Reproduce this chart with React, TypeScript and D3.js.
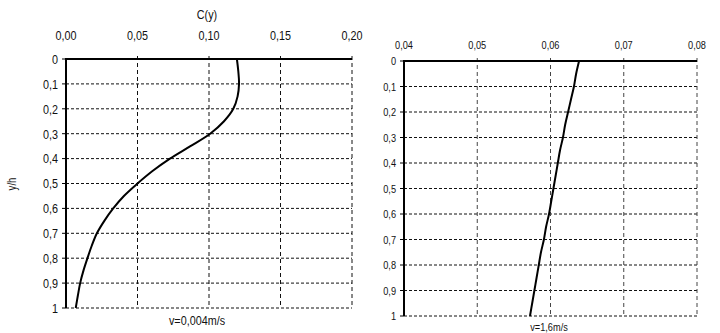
import React, { useEffect, useRef } from 'react';
import * as d3 from 'd3';

// depth y/h, shared by both profiles
const depths = [0, 0.05, 0.1, 0.15, 0.2, 0.25, 0.3, 0.35, 0.4, 0.45, 0.5, 0.55, 0.6, 0.65, 0.7, 0.75, 0.8, 0.85, 0.9, 0.95, 1];
// C(y) for v=0,004m/s
const concSlow = [0.1195, 0.1205, 0.121, 0.12, 0.117, 0.1105, 0.1008, 0.087, 0.0727, 0.0605, 0.05, 0.0405, 0.033, 0.0268, 0.0216, 0.018, 0.015, 0.0122, 0.0099, 0.0083, 0.0068];
// C(y) for v=1,6m/s
const concFast = [0.0639, 0.0635, 0.0632, 0.0628, 0.0624, 0.062, 0.0617, 0.0613, 0.061, 0.0607, 0.0604, 0.0601, 0.0598, 0.0594, 0.0591, 0.0587, 0.0584, 0.0581, 0.0578, 0.0575, 0.0572];

const yTicks = [0, 0.1, 0.2, 0.3, 0.4, 0.5, 0.6, 0.7, 0.8, 0.9, 1];
const xTicksSlow = [0, 0.05, 0.1, 0.15, 0.2];
const xTicksFast = [0.04, 0.05, 0.06, 0.07, 0.08];

const FONT = "'Liberation Sans', Arial, sans-serif";
const SQUEEZE = 0.8; // narrow look of the original font

const fmtY = (d: number) => (d === 0 ? '0' : d === 1 ? '1' : d.toFixed(1).replace('.', ','));
const fmtX = (d: number) => d.toFixed(2).replace('.', ',');

// text drawn narrow: translate to anchor point, then squeeze horizontally
function label(sel: any, anchor: string, size: number) {
  return sel.attr('text-anchor', anchor)
    .attr('font-family', FONT).attr('font-size', size).attr('fill', '#111');
}

function drawPanel(svg: any, o: any) {
  const x = d3.scaleLinear().domain(o.xDomain).range([o.left, o.right]);
  const y = d3.scaleLinear().domain([0, 1]).range([o.top, o.bottom]);
  const g = svg.append('g');

  // grid
  g.selectAll('line.h').data(yTicks.slice(1)).enter().append('line')
    .attr('x1', x(o.xDomain[0])).attr('x2', x(o.xDomain[1]))
    .attr('y1', (d: number) => y(d)).attr('y2', (d: number) => y(d))
    .attr('stroke', '#111').attr('stroke-width', 1).attr('stroke-dasharray', '3,2');
  g.selectAll('line.v').data(o.xTicks.slice(1)).enter().append('line')
    .attr('x1', (d: number) => x(d)).attr('x2', (d: number) => x(d))
    .attr('y1', y(0) - 3).attr('y2', y(1))
    .attr('stroke', o.vGridColor).attr('stroke-width', 1).attr('stroke-dasharray', '4,3');

  // axes
  g.append('line').attr('x1', x(o.xDomain[0])).attr('x2', x(o.xDomain[1]))
    .attr('y1', y(0)).attr('y2', y(0)).attr('stroke', '#000').attr('stroke-width', 2);
  g.append('line').attr('x1', x(o.xDomain[0])).attr('x2', x(o.xDomain[0]))
    .attr('y1', y(0) - 1).attr('y2', y(1)).attr('stroke', '#000').attr('stroke-width', 2);
  g.selectAll('line.yt').data(yTicks).enter().append('line')
    .attr('x1', x(o.xDomain[0]) - 4).attr('x2', x(o.xDomain[0]))
    .attr('y1', (d: number) => y(d)).attr('y2', (d: number) => y(d))
    .attr('stroke', '#000').attr('stroke-width', 1);

  // tick labels
  label(g.selectAll('text.yl').data(yTicks).enter().append('text'), 'end', o.fontSize)
    .attr('transform', (d: number) => `translate(${x(o.xDomain[0]) - 8},${y(d)}) scale(${SQUEEZE},1)`)
    .attr('dy', '0.36em')
    .text(fmtY);
  label(g.selectAll('text.xl').data(o.xTicks).enter().append('text'), 'middle', o.fontSize)
    .attr('transform', (d: number) => `translate(${x(d)},${o.xLabelY}) scale(${SQUEEZE},1)`)
    .text(fmtX);

  // profile
  const line = d3.line<number>()
    .x((d) => x(d))
    .y((d, i) => y(depths[i]))
    .curve(d3.curveCatmullRom);
  g.append('path').datum(o.values).attr('d', line)
    .attr('fill', 'none').attr('stroke', '#000').attr('stroke-width', 2);

  label(g.append('text'), 'middle', o.fontSize)
    .attr('transform', `translate(${o.captionX},${o.captionY}) scale(${SQUEEZE},1)`)
    .text(o.caption);
  return { x, y };
}

export default function App() {
  const ref = useRef<SVGSVGElement>(null);

  useEffect(() => {
    const svg = d3.select(ref.current);
    svg.selectAll('*').remove();

    drawPanel(svg, {
      xDomain: [0, 0.2], left: 66, right: 352, top: 59, bottom: 308,
      xTicks: xTicksSlow, values: concSlow, fontSize: 13.5, xLabelY: 40,
      vGridColor: '#111', caption: 'v=0,004m/s', captionX: 197, captionY: 325,
    });
    drawPanel(svg, {
      xDomain: [0.04, 0.08], left: 404, right: 697, top: 61, bottom: 316,
      xTicks: xTicksFast, values: concFast, fontSize: 11.5, xLabelY: 49,
      vGridColor: '#444', caption: 'v=1,6m/s', captionX: 549, captionY: 331,
    });

    label(svg.append('text'), 'middle', 13.5)
      .attr('transform', `translate(207,19) scale(${SQUEEZE},1)`).text('C(y)');
    label(svg.append('text'), 'middle', 12)
      .attr('transform', `translate(16,184) rotate(-90) scale(${SQUEEZE},1)`).text('y/h');
  }, []);

  return (
    <svg ref={ref} width={720} height={333}
      style={{ position: 'absolute', left: 0, top: 0, background: '#fff' }} />
  );
}
